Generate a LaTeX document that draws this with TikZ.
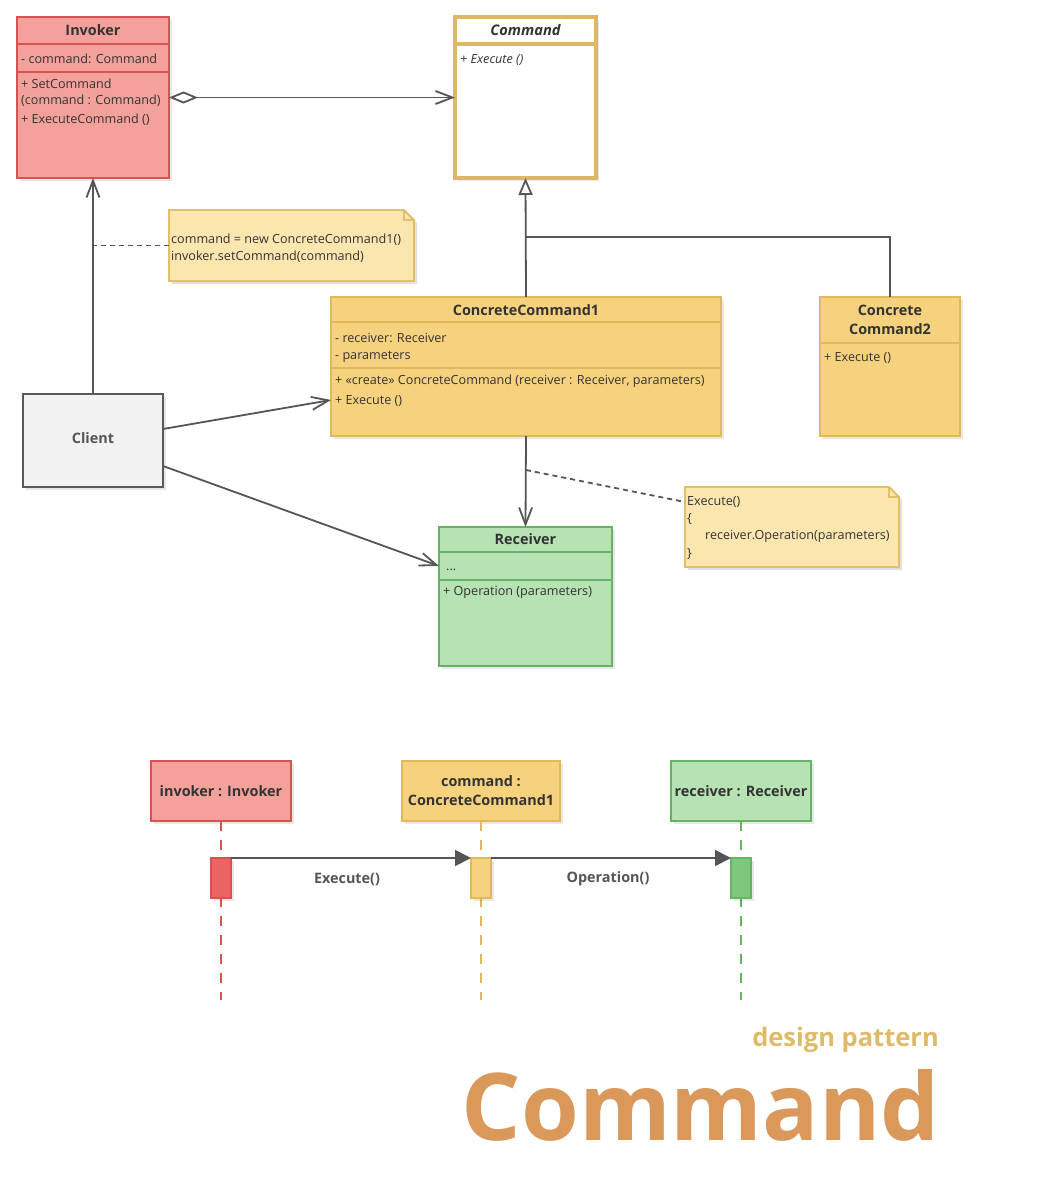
\documentclass[tikz,border=0pt]{standalone}
\usepackage{fontspec}
\setmainfont{Open Sans}
\usetikzlibrary{arrows.meta,shadows,calc}
\definecolor{invF}{HTML}{F4A19C}
\definecolor{invB}{HTML}{D35451}
\definecolor{ccF}{HTML}{F6D27E}
\definecolor{ccB}{HTML}{E0B95E}
\definecolor{cmdB}{HTML}{DDB764}
\definecolor{noteF}{HTML}{FCE6B0}
\definecolor{noteB}{HTML}{E2C06A}
\definecolor{rcvF}{HTML}{B6E2B4}
\definecolor{rcvB}{HTML}{66B365}
\definecolor{cliF}{HTML}{F2F2F2}
\definecolor{cliB}{HTML}{595959}
\definecolor{lineC}{HTML}{555555}
\definecolor{txtC}{HTML}{333333}
\definecolor{actR}{HTML}{EC6462}
\definecolor{actG}{HTML}{7FC77D}
\definecolor{titleC}{HTML}{DA995B}
\definecolor{subC}{HTML}{DFBA68}
\begin{document}
\begin{tikzpicture}[x=1pt,y=-1pt,
  shd/.style={drop shadow={shadow xshift=3pt,shadow yshift=-3pt,opacity=0.15,fill=black!60}},
  cls/.style={draw,line width=1.8pt,anchor=north west,inner sep=0pt,outer sep=0pt,shd},
  sep/.style={line width=1.8pt},
  hdr/.style={font=\fontsize{14.4}{16}\selectfont\bfseries,text=txtC,inner sep=0pt},
  attr/.style={anchor=west,font=\fontsize{12.6}{14}\selectfont,text=txtC,inner sep=0pt,yshift=-1.5pt},
  notebox/.style={anchor=north west,inner sep=0pt,outer sep=0pt},
  conn/.style={draw=lineC,line width=1.8pt},
  openarr/.style={conn,-{Straight Barb[length=17pt,width=13pt,line width=1.8pt]}},
  seqbox/.style={draw,line width=1.8pt,anchor=north west,inner sep=0pt,outer sep=0pt,shd,
     font=\fontsize{14.4}{19}\selectfont\bfseries,text=txtC,align=center},
  act/.style={draw,line width=1.8pt,inner sep=0pt,outer sep=0pt,minimum width=20pt,minimum height=40pt,shd},
  msg/.style={conn,-{Triangle[length=16pt,width=16pt]}},
  msglbl/.style={font=\fontsize{14.4}{16}\selectfont\bfseries,text=lineC,inner sep=0pt,yshift=-1pt},
  life/.style={line width=1.8pt,dash pattern=on 10pt off 9pt}
]
\path[use as bounding box] (0,0) rectangle (1060,1186);

% ---------- Invoker ----------
\node[cls,fill=invF,draw=invB,minimum width=152pt,minimum height=161pt] (inv) at (17,17) {};
\draw[sep,invB] (17,44) -- (169,44);
\draw[sep,invB] (17,72) -- (169,72);
\node[hdr] (invh) at (93,30) {Invoker};
\node[attr] (inva) at (21,57) {- command: Command};
\node[attr] (invm1) at (21,82) {+ SetCommand};
\node[attr] (invm2) at (21,99) {(command : Command)};
\node[attr] (invm3) at (21,118) {+ ExecuteCommand ()};

% ---------- Command ----------
\node[cls,fill=white,draw=cmdB,line width=3.2pt,minimum width=141pt,minimum height=161pt] (cmd) at (455,17) {};
\draw[cmdB,line width=3.2pt] (455,44) -- (596,44);
\node[hdr,font=\fontsize{14.6}{16}\selectfont\bfseries\itshape] (cmdh) at (525.5,30) {Command};
\node[attr,font=\fontsize{12.6}{14}\selectfont\itshape] (cmdm) at (460,58) {+ Execute ()};

% ---------- Note 1 ----------
\node[notebox,minimum width=245pt,minimum height=71pt] (note1) at (169,210) {};
\fill[black,opacity=0.12] ([xshift=3pt,yshift=-3pt]note1.north west) -- ([xshift=-7pt,yshift=-3pt]note1.north east) -- ([xshift=3pt,yshift=-13pt]note1.north east) -- ([xshift=3pt,yshift=-3pt]note1.south east) -- ([xshift=3pt,yshift=-3pt]note1.south west) -- cycle;
\draw[noteB,fill=noteF,line width=1.8pt] (note1.north west) -- ([xshift=-10pt]note1.north east) -- ([yshift=-10pt]note1.north east) -- (note1.south east) -- (note1.south west) -- cycle;
\draw[noteB,line width=1.2pt] ([xshift=-10pt]note1.north east) -- ([xshift=-10pt,yshift=-10pt]note1.north east) -- ([yshift=-10pt]note1.north east);
\node[attr] (n1a) at (171,238) {command = new ConcreteCommand1()};
\node[attr] (n1b) at (171,255) {invoker.setCommand(command)};

% ---------- Client ----------
\node[cls,fill=cliF,draw=cliB,minimum width=140pt,minimum height=93pt] (cli) at (23,394) {};
\node[hdr,text=lineC] (clih) at (93,438) {Client};

% ---------- ConcreteCommand1 ----------
\node[cls,fill=ccF,draw=ccB,minimum width=390pt,minimum height=139pt] (cc1) at (331,297) {};
\draw[sep,ccB] (331,322) -- (721,322);
\draw[sep,ccB] (331,368) -- (721,368);
\node[hdr] (cc1h) at (526,310) {ConcreteCommand1};
\node[attr] (cc1a1) at (335,336) {- receiver: Receiver};
\node[attr] (cc1a2) at (335,355) {- parameters};
\node[attr] (cc1m1) at (335,380) {+ «create» ConcreteCommand (receiver : Receiver, parameters)};
\node[attr] (cc1m2) at (335,399) {+ Execute ()};

% ---------- ConcreteCommand2 ----------
\node[cls,fill=ccF,draw=ccB,minimum width=140pt,minimum height=139pt] (cc2) at (820,297) {};
\draw[sep,ccB] (820,343) -- (960,343);
\node[hdr] (cc2h1) at (890,310) {Concrete};
\node[hdr] (cc2h2) at (890,329) {Command2};
\node[attr] (cc2m) at (824,356) {+ Execute ()};

% ---------- Receiver ----------
\node[cls,fill=rcvF,draw=rcvB,minimum width=173pt,minimum height=139pt] (rcv) at (439,527) {};
\draw[sep,rcvB] (439,552) -- (612,552);
\draw[sep,rcvB] (439,580) -- (612,580);
\node[hdr] (rcvh) at (525.5,539) {Receiver};
\node[attr,anchor=base west,yshift=0pt] (rcva) at (446,569) {...};
\node[attr] (rcvm) at (443,591) {+ Operation (parameters)};

% ---------- Note 2 ----------
\node[notebox,minimum width=214pt,minimum height=80pt] (note2) at (685,487) {};
\fill[black,opacity=0.12] ([xshift=3pt,yshift=-3pt]note2.north west) -- ([xshift=-7pt,yshift=-3pt]note2.north east) -- ([xshift=3pt,yshift=-13pt]note2.north east) -- ([xshift=3pt,yshift=-3pt]note2.south east) -- ([xshift=3pt,yshift=-3pt]note2.south west) -- cycle;
\draw[noteB,fill=noteF,line width=1.8pt] (note2.north west) -- ([xshift=-10pt]note2.north east) -- ([yshift=-10pt]note2.north east) -- (note2.south east) -- (note2.south west) -- cycle;
\draw[noteB,line width=1.2pt] ([xshift=-10pt]note2.north east) -- ([xshift=-10pt,yshift=-10pt]note2.north east) -- ([yshift=-10pt]note2.north east);
\node[attr] (n2a) at (687,500) {Execute()};
\node[attr] (n2b) at (687,517) {\{};
\node[attr] (n2c) at (705,535) {receiver.Operation(parameters)};
\node[attr] (n2d) at (687,552) {\}};

% ---------- connectors ----------
\draw[conn,{Diamond[open,length=29pt,width=12pt,fill=white,line width=1.8pt]}-{Straight Barb[length=17pt,width=13pt,line width=1.8pt]}] (inv.east) -- (cmd.west);
\draw[conn,-{Triangle[open,length=17pt,width=14pt,fill=white,line width=1.8pt]}] (cc1.north) -- (cmd.south);
\coordinate (jn) at (526,237);
\draw[conn] (cc2.north) |- (jn);
\draw[openarr] (cli.north) -- (inv.south);
\draw[conn,dash pattern=on 5pt off 4pt] (note1.west) -- (note1.west -| cli.north);
\draw[openarr] ([yshift=11.5pt]cli.east) -- ([yshift=-33.5pt]cc1.west);
\draw[openarr] ([yshift=-25.5pt]cli.east) -- ([yshift=30.5pt]rcv.west);
\draw[openarr] (cc1.south) -- (rcv.north);
\coordinate (d2) at (526,470);
\draw[conn,dash pattern=on 5pt off 4pt] (d2) -- ([yshift=25pt]note2.west);

% ---------- Sequence diagram ----------
\node[seqbox,fill=invF,draw=invB,minimum width=140pt,minimum height=60pt] (sinv) at (151,761) {invoker : Invoker};
\node[seqbox,fill=ccF,draw=ccB,minimum width=158pt,minimum height=60pt] (scmd) at (402,761) {command :\\ConcreteCommand1};
\node[seqbox,fill=rcvF,draw=rcvB,minimum width=140pt,minimum height=60pt] (srcv) at (671,761) {receiver : Receiver};
\coordinate (einv) at (221,1000);
\coordinate (ecmd) at (481,1000);
\coordinate (ercv) at (741,1000);
\draw[life,invB] (sinv.south) -- (einv);
\draw[life,ccB] (scmd.south) -- (ecmd);
\draw[life,rcvB] (srcv.south) -- (ercv);
\node[act,fill=actR,draw=invB] (ainv) at (221,878) {};
\node[act,fill=ccF,draw=ccB] (acmd) at (481,878) {};
\node[act,fill=actG,draw=rcvB] (arcv) at (741,878) {};
\draw[msg] (ainv.north east) -- (acmd.north west);
\draw[msg] (acmd.north east) -- (arcv.north west);
\node[msglbl] (l1) at (347,878) {Execute()};
\node[msglbl] (l2) at (608,878) {Operation()};

% ---------- Title ----------
\node[anchor=base east,inner sep=0pt,text=subC,font=\fontsize{25.5}{30}\selectfont\bfseries] (sub) at (939,1046) {design pattern};
\node[anchor=base east,inner sep=0pt,text=titleC,font=\fontsize{93.5}{110}\selectfont\bfseries] (ttl) at (940,1140) {Command};
\end{tikzpicture}
\end{document}
